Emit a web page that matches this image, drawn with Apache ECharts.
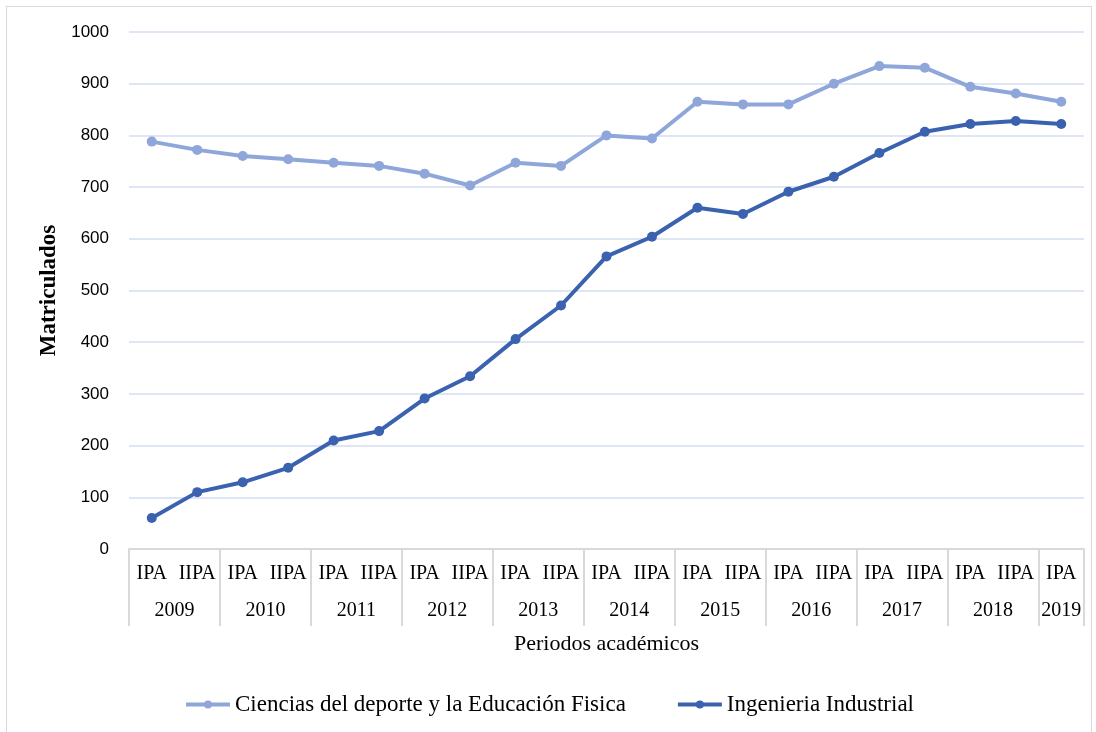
<!DOCTYPE html>
<html>
<head>
<meta charset="utf-8">
<script src="https://cdn.jsdelivr.net/npm/echarts@6/dist/echarts.min.js"></script>
<style>
  html, body { margin: 0; padding: 0; background: #fff; }
  #chart {
    position: absolute; left: 6px; top: 6px;
    width: 1084px; height: 726px;
    border: 1px solid #d9d9d9; border-bottom: none;
  }
</style>
</head>
<body>
<div id="chart"></div>
<script>
// periodos academicos (2009 IPA ... 2019 IPA)
const years = ["2009", "2010", "2011", "2012", "2013", "2014", "2015", "2016", "2017", "2018", "2019"];
const terms = ["IPA", "IIPA"];
const periods = [];
years.forEach((y, i) => {
  periods.push(terms[0]);
  if (i < years.length - 1) periods.push(terms[1]);
});

const seriesNames = ["Ciencias del deporte y la Educación Fisica", "Ingenieria Industrial"];
const deporte = [788, 772, 760, 754, 747, 741, 726, 703, 747, 741, 800,
  794, 865, 860, 860, 900, 934, 931, 894, 881, 865];
const industrial = [60, 110, 129, 157, 210, 228, 291, 334, 406, 471, 566,
  604, 660, 648, 691, 720, 766, 807, 822, 828, 822];

// year labels on a half-band axis so each year sits centred under its pair
const yearSlots = [];
for (let j = 0; j <= periods.length * 2; j++) yearSlots.push("");
years.forEach((y, k) => {
  const j = k < years.length - 1 ? 4 * k + 2 : 4 * k + 1;
  yearSlots[j] = y;
});

const chart = echarts.init(document.getElementById("chart"));

const serif = "'Liberation Serif', 'Times New Roman', serif";

const option = {
  animation: false,
  grid: { left: 122, right: 7, top: 25, bottom: 184 },
  legend: {
    bottom: 12,
    left: "center",
    itemWidth: 44,
    itemHeight: 10,
    itemGap: 50,
    lineStyle: { width: 4 },
    textStyle: { fontFamily: serif, fontSize: 23, color: "#000" },
    data: seriesNames
  },
  xAxis: [
    {
      type: "category",
      data: periods,
      boundaryGap: true,
      axisLine: { show: true, lineStyle: { color: "#d9d9d9", width: 2 } },
      axisTick: { show: false },
      axisLabel: {
        interval: 0,
        margin: 15,
        color: "#000",
        fontFamily: serif,
        fontSize: 20
      }
    },
    {
      type: "category",
      position: "bottom",
      data: yearSlots,
      boundaryGap: false,
      axisLine: { show: false },
      axisTick: {
        show: true,
        length: 77,
        interval: (i) => i % 4 === 0 || i === yearSlots.length - 1,
        lineStyle: { color: "#d9d9d9", width: 2 }
      },
      axisLabel: {
        interval: 0,
        margin: 52,
        color: "#000",
        fontFamily: serif,
        fontSize: 20
      },
      name: "Periodos académicos",
      nameLocation: "middle",
      nameGap: 84,
      nameTextStyle: { fontFamily: serif, fontSize: 22, color: "#000" }
    }
  ],
  yAxis: {
    type: "value",
    min: 0,
    max: 1000,
    interval: 100,
    axisLine: { show: false },
    axisTick: { show: false },
    splitLine: { lineStyle: { color: "#d3ddf0", width: 1.5 } },
    axisLabel: {
      margin: 20,
      color: "#000",
      fontFamily: "'Liberation Sans', Arial, sans-serif",
      fontSize: 17,
      formatter: (v) => String(v)
    },
    name: "Matriculados",
    nameLocation: "middle",
    nameGap: 67,
    nameTextStyle: { fontFamily: serif, fontSize: 23, fontWeight: "bold", color: "#000" }
  },
  series: [
    {
      name: seriesNames[0],
      type: "line",
      data: deporte,
      symbol: "circle",
      symbolSize: 10,
      color: "#8ea6d9",
      lineStyle: { width: 4 }
    },
    {
      name: seriesNames[1],
      type: "line",
      data: industrial,
      symbol: "circle",
      symbolSize: 10,
      color: "#3a62ae",
      lineStyle: { width: 4 }
    }
  ]
};

chart.setOption(option);
</script>
</body>
</html>
